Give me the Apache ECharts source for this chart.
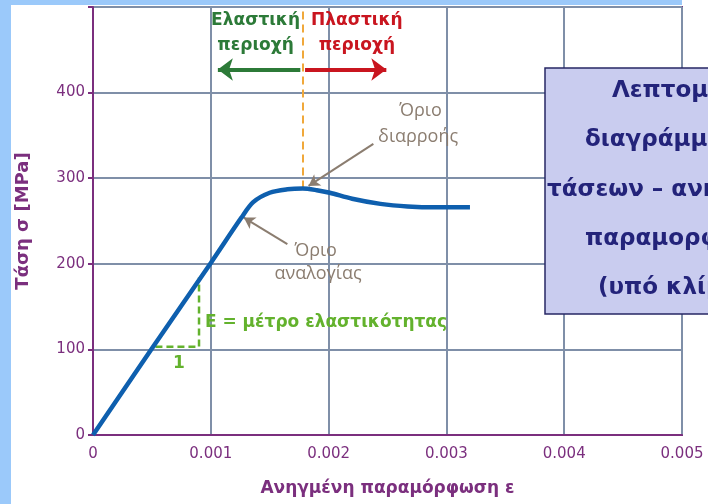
<!DOCTYPE html>
<html>
<head>
<meta charset="utf-8">
<script src="https://cdn.jsdelivr.net/npm/echarts@6/dist/echarts.min.js"></script>
<style>
  html, body { margin: 0; padding: 0; background: #ffffff; }
  #chart { width: 708px; height: 504px; }
</style>
</head>
<body>
<div id="chart"></div>
<script>
// Stress–strain curve of a ductile steel (strain ε, stress σ in MPa)
const strain = [0, 0.0005, 0.001, 0.00126, 0.00136, 0.0015, 0.00165, 0.00178, 0.0019, 0.00201, 0.0022, 0.00244, 0.00267, 0.00292, 0.0032];
const stress = [0, 101, 201, 254, 272, 283, 287, 288, 286, 283, 276, 270, 267, 266, 266];

// slope triangle showing the elastic modulus
const slopeStrain = [0.00053, 0.0009, 0.0009];
const slopeStress = [103, 103, 184];

// yield point (top of the curve) and proportional limit
const yieldPoint = [0.00178, 288];
const proportionalLimit = [0.00126, 254];

const xTicks = [0, 0.001, 0.002, 0.003, 0.004, 0.005];
const yTicks = [0, 100, 200, 300, 400];

const boxLines = ['Λεπτομέρεια του', 'διαγράμματος', 'τάσεων – ανηγμένων', 'παραμορφώσεων', '(υπό κλίμακα)'];

const PURPLE = '#7b2f7e';
const GRID = '#7f8fa8';
const COMIC = '"DejaVu Sans", sans-serif';
const PLAIN = '"Open Sans", sans-serif';

const curve = strain.map((e, i) => [e, stress[i]]);
const slope = slopeStrain.map((e, i) => [e, slopeStress[i]]);

function arrowLine(from, to, color, width, head) {
  return [
    { coord: from, symbol: 'none', lineStyle: { color: color, width: width, type: 'solid' } },
    { coord: to, symbol: 'arrow', symbolSize: head }
  ];
}

const option = {
  animation: false,
  backgroundColor: '#ffffff',
  grid: {
    left: 93, right: 26, top: 7, bottom: 69,
    show: true, borderColor: PURPLE, borderWidth: 2, backgroundColor: '#ffffff'
  },
  xAxis: {
    type: 'value', min: 0, max: 0.005, interval: 0.001,
    name: 'Ανηγμένη παραμόρφωση ε',
    nameLocation: 'middle', nameGap: 45,
    nameTextStyle: { color: PURPLE, fontFamily: COMIC, fontWeight: 'bold', fontSize: 17 },
    axisLine: { show: true, lineStyle: { color: PURPLE, width: 2 } },
    axisTick: { show: false },
    axisLabel: {
      color: PURPLE, fontFamily: COMIC, fontSize: 15, margin: 12,
      formatter: v => {
        const t = xTicks.find(x => Math.abs(x - v) < 1e-9);
        if (t === undefined) return '';
        return t === 0 ? '0' : t.toFixed(3);
      }
    },
    splitLine: { show: true, lineStyle: { color: GRID, width: 2 } }
  },
  yAxis: {
    type: 'value', min: 0, max: 500, interval: 100,
    name: 'Τάση σ [MPa]',
    nameLocation: 'middle', nameGap: 61,
    nameTextStyle: { color: PURPLE, fontFamily: COMIC, fontWeight: 'bold', fontSize: 18 },
    axisLine: { show: true, lineStyle: { color: PURPLE, width: 2 } },
    axisTick: { show: true, length: 5, lineStyle: { color: PURPLE, width: 2 } },
    axisLabel: {
      color: PURPLE, fontFamily: COMIC, fontSize: 15, margin: 8,
      formatter: v => (yTicks.indexOf(v) >= 0 ? String(v) : '')
    },
    splitLine: { show: true, lineStyle: { color: GRID, width: 2 } }
  },
  series: [
    {
      type: 'line',
      data: slope,
      symbol: 'none',
      lineStyle: { color: '#63b22d', width: 2.5, type: [7, 4] },
      z: 3
    },
    {
      type: 'line',
      data: curve,
      symbol: 'none',
      smooth: 0.3,
      lineStyle: { color: '#0e5fae', width: 4.5 },
      z: 5,
      markLine: {
        silent: true,
        animation: false,
        label: { show: false },
        symbol: ['none', 'none'],
        data: [
          [
            { coord: yieldPoint, symbol: 'none', lineStyle: { color: '#f0a83a', width: 2, type: [8, 5] } },
            { coord: [yieldPoint[0], 500], symbol: 'none' }
          ],
          arrowLine([0.00176, 427], [0.00106, 427], '#2c7a38', 4, [17, 15]),
          arrowLine([0.0018, 427], [0.00249, 427], '#c9151f', 4, [17, 15]),
          arrowLine([0.00238, 340], [0.00183, 291], '#8b7d70', 2, [10, 11]),
          arrowLine([0.00165, 223], [0.00128, 254], '#8b7d70', 2, [10, 11])
        ]
      }
    }
  ]
};

const chart = echarts.init(document.getElementById('chart'));
chart.setOption(option);

const px = (p) => chart.convertToPixel({ gridIndex: 0 }, p);

function label(p, text, color, font, align) {
  const c = px(p);
  return {
    type: 'text', x: c[0], y: c[1], z: 20,
    style: { text: text, fill: color, font: font, align: align || 'center', verticalAlign: 'middle' }
  };
}

const boldComic = 'bold 17px ' + COMIC;
const plain = '18px ' + PLAIN;

const graphics = [
  // light blue frame along the left and top edges
  { type: 'rect', shape: { x: 0, y: 0, width: 11, height: 504 }, style: { fill: '#9bc9fa' }, z: 0 },
  { type: 'rect', shape: { x: 0, y: 0, width: 682, height: 5 }, style: { fill: '#9bc9fa' }, z: 0 },

  label([0.00138, 484], 'Ελαστική', '#2c7a38', boldComic),
  label([0.00138, 455], 'περιοχή', '#2c7a38', boldComic),
  label([0.00224, 484], 'Πλαστική', '#c9151f', boldComic),
  label([0.00224, 455], 'περιοχή', '#c9151f', boldComic),

  label([0.00278, 379], 'Όριο', '#8b7d70', plain),
  label([0.00276, 348], 'διαρροής', '#8b7d70', plain),
  label([0.00189, 215], 'Όριο', '#8b7d70', plain),
  label([0.00191, 188], 'αναλογίας', '#8b7d70', plain),

  label([0.00095, 131], 'E = μέτρο ελαστικότητας', '#63b22d', 'bold 17px ' + COMIC, 'left'),
  label([0.00073, 84], '1', '#63b22d', 'bold 17px ' + COMIC),

  // note panel on the right
  {
    type: 'rect', z: 30,
    shape: { x: 545, y: 68, width: 180, height: 246 },
    style: { fill: '#c9ccef', stroke: '#272764', lineWidth: 1.5 }
  }
];

const boxX = [612, 585, 547, 585, 598];
const boxY = [91, 140, 190, 239, 288];
boxLines.forEach((t, i) => {
  graphics.push({
    type: 'text', z: 31, x: boxX[i], y: boxY[i],
    style: { text: t, fill: '#23237a', font: 'bold 23px ' + COMIC, align: 'left', verticalAlign: 'middle' }
  });
});

chart.setOption({ graphic: graphics });
</script>
</body>
</html>
